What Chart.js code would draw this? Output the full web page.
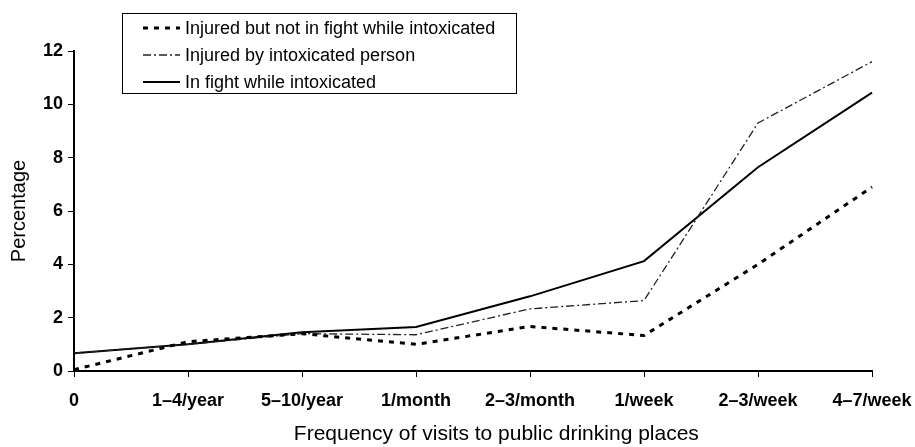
<!DOCTYPE html>
<html>
<head>
<meta charset="utf-8">
<script src="https://cdn.jsdelivr.net/npm/chart.js@4.4.0/dist/chart.umd.min.js"></script>
<style>
  html, body { margin: 0; padding: 0; background: #fff; }
  #wrap { width: 915px; height: 447px; }
</style>
</head>
<body>
<div id="wrap"><canvas id="chart"></canvas></div>
<script>
var categories = ['0', '1\u20134/year', '5\u201310/year', '1/month', '2\u20133/month', '1/week', '2\u20133/week', '4\u20137/week'];
var injuredNotFight = [0.05, 1.1, 1.4, 1.0, 1.67, 1.33, 4.0, 6.9];
var injuredByIntox = [0.67, 1.0, 1.4, 1.36, 2.33, 2.64, 9.3, 11.6];
var fightIntox = [0.67, 1.0, 1.45, 1.65, 2.8, 4.12, 7.64, 10.44];
var yTicks = [0, 2, 4, 6, 8, 10, 12];

var FONT = '"Liberation Sans", Arial, sans-serif';

// legend drawn as a boxed key in the upper left of the plot
var boxLegend = {
  id: 'boxLegend',
  afterDraw: function(chart) {
    var ctx = chart.ctx;
    var x0 = 122, y0 = 13, w = 394, h = 80, row = 27;
    ctx.save();
    ctx.fillStyle = '#fff';
    ctx.fillRect(x0, y0, w, h);
    ctx.strokeStyle = '#000';
    ctx.lineWidth = 1;
    ctx.setLineDash([]);
    ctx.strokeRect(x0 + 0.5, y0 + 0.5, w, h);
    chart.data.datasets.forEach(function(ds, i) {
      var y = y0 + 15 + i * row;
      ctx.beginPath();
      ctx.strokeStyle = ds.borderColor;
      ctx.lineWidth = ds.borderWidth;
      ctx.setLineDash(ds.borderDash || []);
      ctx.moveTo(143, y);
      ctx.lineTo(180, y);
      ctx.stroke();
      ctx.setLineDash([]);
      ctx.fillStyle = '#000';
      ctx.font = '18px ' + FONT;
      ctx.textBaseline = 'middle';
      ctx.fillText(ds.label, 185, y + 1);
    });
    ctx.restore();
  }
};

var ctx = document.getElementById('chart').getContext('2d');
new Chart(ctx, {
  type: 'line',
  data: {
    labels: categories,
    datasets: [
      { label: 'Injured but not in fight while intoxicated', data: injuredNotFight,
        borderColor: '#000', borderWidth: 3, borderDash: [5, 6] },
      { label: 'Injured by intoxicated person', data: injuredByIntox,
        borderColor: '#222', borderWidth: 1.3, borderDash: [8, 3, 2, 3] },
      { label: 'In fight while intoxicated', data: fightIntox,
        borderColor: '#000', borderWidth: 2 }
    ]
  },
  options: {
    responsive: true,
    maintainAspectRatio: false,
    animation: false,
    layout: { padding: { top: 51, right: 0, left: 7, bottom: 0 } },
    elements: { point: { radius: 0 }, line: { tension: 0, fill: false } },
    plugins: {
      legend: { display: false },
      tooltip: { enabled: false }
    },
    scales: {
      x: {
        offset: false,
        grid: { display: true, drawOnChartArea: false, drawTicks: true, tickLength: 6, color: '#000' },
        border: { display: true, color: '#000', width: 2 },
        ticks: { color: '#000', padding: 13, maxRotation: 0, autoSkip: false,
          font: { family: FONT, size: 18, weight: 'bold' } },
        // leading spaces nudge the centred title right, as in the original
        title: { display: true, text: '        Frequency of visits to public drinking places', color: '#000',
          font: { family: FONT, size: 21 }, padding: { top: 4, bottom: 0 } },
        afterFit: function(s) { s.height = 76; s.paddingRight = 43; s.paddingLeft = 0; }
      },
      y: {
        min: 0, max: 12,
        afterBuildTicks: function(s) { s.ticks = yTicks.map(function(v) { return { value: v }; }); },
        grid: { display: true, drawOnChartArea: false, drawTicks: true, tickLength: 6, color: '#000' },
        border: { display: true, color: '#000', width: 2 },
        ticks: { color: '#000', padding: 5, font: { family: FONT, size: 18, weight: 'bold' } },
        title: { display: true, text: 'Percentage', color: '#000',
          font: { family: FONT, size: 20 }, padding: { top: 0, bottom: 4 } },
        afterFit: function(s) { s.width = 67; }
      }
    }
  },
  plugins: [boxLegend]
});
</script>
</body>
</html>
